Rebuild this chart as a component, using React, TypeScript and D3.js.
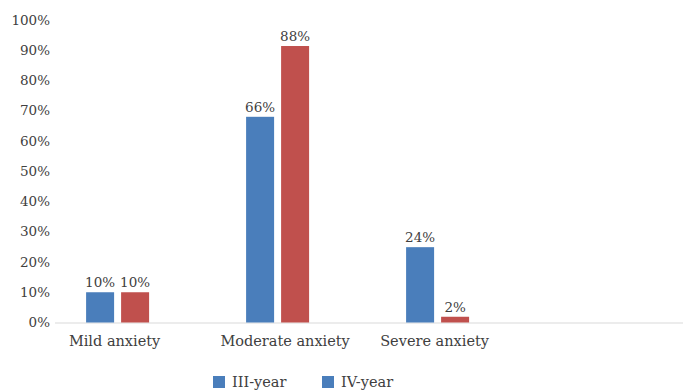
import React, { useEffect, useRef } from "react";
import * as d3 from "d3";

// categories and series
const categories = ["Mild anxiety", "Moderate anxiety", "Severe anxiety"];
const seriesNames = ["III-year", "IV-year"];
// bar heights as drawn in the picture (percent)
const thirdYear = [10, 68, 24.9];
const fourthYear = [10, 91.4, 1.9];
// data labels as printed above the bars
const thirdYearLabels = ["10%", "66%", "24%"];
const fourthYearLabels = ["10%", "88%", "2%"];
const yTicks = [0, 10, 20, 30, 40, 50, 60, 70, 80, 90, 100];

const colors = ["#4a7ebb", "#c0504d"];
const legendColors = ["#4a7ebb", "#4a7ebb"];

const App = () => {
  const svgRef = useRef(null);

  useEffect(() => {
    const width = 683;
    const height = 392;
    const font = "'DejaVu Serif', serif";

    const svg = d3.select(svgRef.current);
    svg.selectAll("*").remove();
    svg.attr("width", width).attr("height", height);

    // y scale
    const y = d3.scaleLinear().domain([0, 100]).range([322.5, 20]);

    // x scale (groups)
    const x = d3.scaleBand().domain(categories).range([37.6, 517.6]);
    const xSub = d3.scaleBand().domain(seriesNames).range([-31.5, 31.5]).paddingInner(0.2);

    // y tick labels
    svg.append("g")
      .selectAll("text")
      .data(yTicks)
      .enter()
      .append("text")
      .attr("x", 50)
      .attr("y", (d) => y(d))
      .attr("dy", "0.35em")
      .attr("text-anchor", "end")
      .attr("font-family", font)
      .attr("font-size", 13.5)
      .attr("fill", "#404040")
      .text((d) => d + "%");

    // baseline
    svg.append("line")
      .attr("x1", 55)
      .attr("x2", width)
      .attr("y1", y(0) + 0.5)
      .attr("y2", y(0) + 0.5)
      .attr("stroke", "#d9d9d9")
      .attr("stroke-width", 1.2);

    const series = [
      { name: seriesNames[0], values: thirdYear, labels: thirdYearLabels },
      { name: seriesNames[1], values: fourthYear, labels: fourthYearLabels },
    ];

    series.forEach((s, si) => {
      const g = svg.append("g");
      g.selectAll("rect")
        .data(categories)
        .enter()
        .append("rect")
        .attr("x", (d) => x(d) + x.bandwidth() / 2 + xSub(s.name))
        .attr("y", (d, i) => y(s.values[i]))
        .attr("width", xSub.bandwidth())
        .attr("height", (d, i) => y(0) - y(s.values[i]))
        .attr("fill", colors[si]);

      g.selectAll("text")
        .data(categories)
        .enter()
        .append("text")
        .attr("x", (d) => x(d) + x.bandwidth() / 2 + xSub(s.name) + xSub.bandwidth() / 2)
        .attr("y", (d, i) => y(s.values[i]) - 5)
        .attr("text-anchor", "middle")
        .attr("font-family", font)
        .attr("font-size", 13.5)
        .attr("fill", "#404040")
        .text((d, i) => s.labels[i]);
    });

    // category labels (the original ones are not quite centred)
    const labelShift = [-3, 7.5, -3];
    svg.append("g")
      .selectAll("text")
      .data(categories)
      .enter()
      .append("text")
      .attr("x", (d, i) => x(d) + x.bandwidth() / 2 + labelShift[i])
      .attr("y", 346)
      .attr("text-anchor", "middle")
      .attr("font-family", font)
      .attr("font-size", 14.5)
      .attr("fill", "#404040")
      .text((d) => d);

    // legend
    const legend = svg.append("g").attr("transform", "translate(213,376)");
    const items = legend.selectAll("g")
      .data(seriesNames)
      .enter()
      .append("g")
      .attr("transform", (d, i) => `translate(${i * 109},0)`);
    items.append("rect")
      .attr("width", 12)
      .attr("height", 12)
      .attr("fill", (d, i) => legendColors[i]);
    items.append("text")
      .attr("x", 19)
      .attr("y", 11)
      .attr("font-family", font)
      .attr("font-size", 14.5)
      .attr("fill", "#404040")
      .text((d) => d);
  }, []);

  return <svg ref={svgRef} style={{ position: "absolute", left: 0, top: 0 }}></svg>;
};

export default App;
